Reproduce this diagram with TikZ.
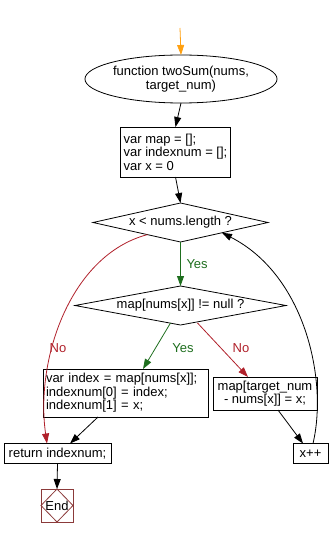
\documentclass[tikz,border=0pt]{standalone}
\usepackage{fontspec}
\setmainfont{Liberation Sans}
\usetikzlibrary{shapes.geometric,arrows.meta}
\definecolor{flred}{HTML}{B0202A}
\definecolor{flgreen}{HTML}{1E6E1E}
\definecolor{florange}{HTML}{FFA010}
\definecolor{flend}{HTML}{8B3A3A}
\tikzset{
  base/.style={font=\fontsize{13}{13.5}\selectfont, inner sep=0pt, outer sep=0pt},
  procbox/.style={base, draw, rectangle, align=left, inner xsep=3pt},
  decbox/.style={base, draw, diamond},
  arr/.style={-{Triangle[length=10pt,width=7pt]}},
  lbl/.style={base}
}
\begin{document}
\begin{tikzpicture}[x=1pt,y=-1pt,line width=0.8pt]
\useasboundingbox (0,0) rectangle (333,537);
\coordinate (s) at (180,28);
\node[base, draw, ellipse, minimum width=162pt, minimum height=48pt, align=center] (fn) at (181,79) {function twoSum(nums,\\target\_num)};
\node[procbox, minimum width=107pt, minimum height=50pt] (init) at (175.5,152) {var map = [];\\var indexnum = [];\\var x = 0};
\node[decbox, minimum width=175pt, minimum height=39pt, aspect=4.5] (d1) at (180.5,222.5) {x < nums.length ?};
\node[decbox, minimum width=211pt, minimum height=39pt, aspect=5.4] (d2) at (180.5,305.5) {map[nums[x]] != null ?};
\node[procbox, minimum width=165pt, minimum height=48pt, text width=159pt] (idx) at (125.5,393) {var index = map[nums[x]];\\indexnum[0] = index;\\indexnum[1] = x;};
\node[procbox, minimum width=104pt, minimum height=33pt, align=center] (mp) at (265,393.5) {map[target\_num\\- nums[x]] = x;};
\node[procbox, minimum width=107pt, minimum height=20pt, align=center] (ret) at (57.5,453.5) {return indexnum;};
\node[procbox, minimum width=35pt, minimum height=20pt, align=center] (xpp) at (310.5,453.5) {x++};
\node[base, draw=flend, rectangle, minimum width=32pt, minimum height=33pt] (end) at (57,505.5) {End};
\draw[flend] (end.north) -- (end.east) -- (end.south) -- (end.west) -- cycle;

\draw[arr, florange] (s) -- (fn.north);
\draw[arr] (fn.south) -- (init.north);
\draw[arr] (init.south) -- (d1.north);
\draw[arr, flgreen] (d1.south) -- node[lbl, right=6pt, text=flgreen] {Yes} (d2.north);
\draw[arr, flgreen] ([xshift=-10pt,yshift=2pt]d2.south) -- ([xshift=100pt]idx.north west);
\node[lbl, text=flgreen] (yes2) at (183,348) {Yes};
\draw[arr, flred] ([xshift=17pt,yshift=2pt]d2.south) -- ([xshift=35pt]mp.north west);
\node[lbl, text=flred] (no2) at (241,348) {No};
\draw[arr] ([xshift=55pt]idx.south west) -- ([xshift=66pt]ret.north west);
\draw[arr] ([xshift=65pt]mp.south west) -- ([xshift=10pt]xpp.north west);
\draw[arr] (ret.south) -- (end.north);
\draw[arr, flred] ([xshift=-33pt,yshift=-31.6pt]d1.north) .. controls (70,255) and (35,360) .. ([xshift=43pt]ret.north west);
\node[lbl, text=flred] (no1) at (58,348) {No};
\draw[arr] ([xshift=20pt]xpp.north west) .. controls (328,380) and (305,275) .. ([xshift=41.5pt,yshift=-29.75pt]d1.north);
\end{tikzpicture}
\end{document}
